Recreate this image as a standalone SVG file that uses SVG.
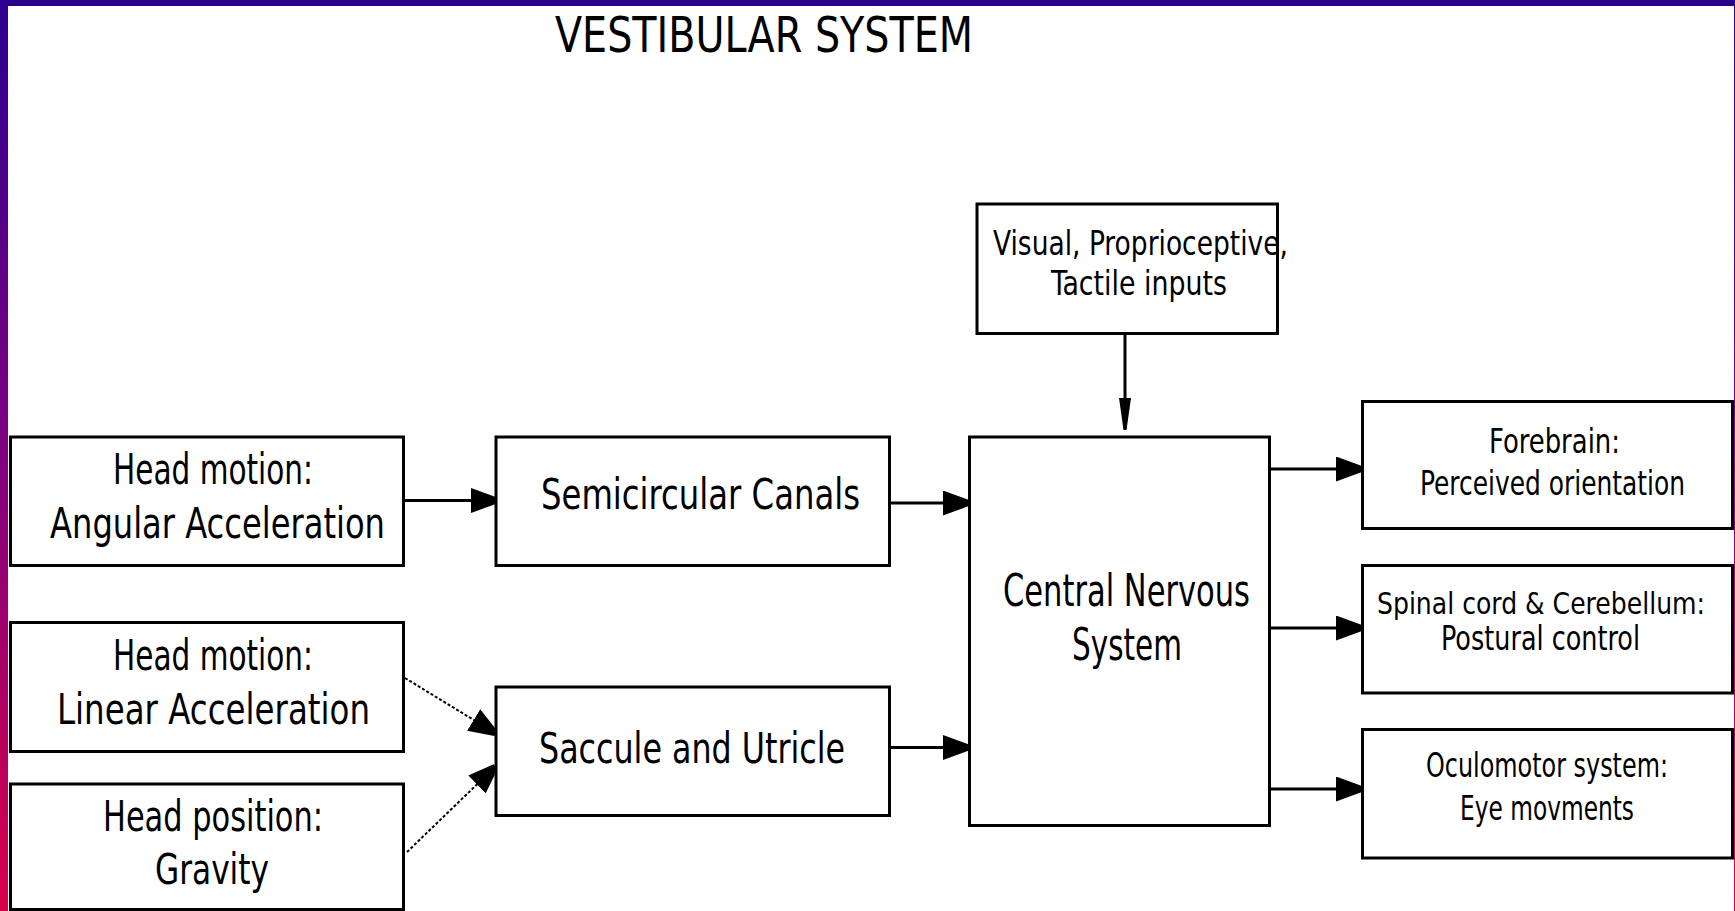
<svg xmlns="http://www.w3.org/2000/svg" width="1735" height="911" viewBox="0 0 1735 911">
  <style>
    .box { fill: #ffffff; stroke: #000000; stroke-width: 3; }
    .t { font-family: "DejaVu Sans Condensed", "DejaVu Sans", "Liberation Sans", sans-serif; font-stretch: condensed; fill: #000000; text-anchor: middle; }
    .big { font-size: 42px; }
    .cns { font-size: 45px; }
    .small { font-size: 33px; }
    .smaller { font-size: 30px; }
    .title { font-size: 49px; }
    .conn { stroke: #000000; stroke-width: 3; fill: none; }
    .dash { stroke: #000000; stroke-width: 2; fill: none; stroke-dasharray: 3 2; }
  </style>
  <defs>
    <linearGradient id="edge" x1="0" y1="0" x2="0" y2="1">
      <stop offset="0" stop-color="#2a0090"/>
      <stop offset="0.5" stop-color="#80007f"/>
      <stop offset="1" stop-color="#d8004a"/>
    </linearGradient>
    <marker id="ah" viewBox="0 0 26 25" refX="25" refY="12.5" markerWidth="26" markerHeight="25" markerUnits="userSpaceOnUse" orient="auto">
      <path d="M0,0 L26,9.5 L26,15.5 L0,25 Z" fill="#000000"/>
    </marker>
    <marker id="av" viewBox="0 0 32 12" refX="31" refY="6" markerWidth="32" markerHeight="12" markerUnits="userSpaceOnUse" orient="auto">
      <path d="M0,0 L32,4.5 L32,7.5 L0,12 Z" fill="#000000"/>
    </marker>
  </defs>

  <rect x="0" y="0" width="1735" height="911" fill="#ffffff"/>
  <rect x="0" y="0" width="1735" height="6" fill="#28008a"/>
  <rect x="0" y="0" width="8" height="911" fill="url(#edge)"/>
  <rect x="1734" y="0" width="1" height="911" fill="url(#edge)"/>

  <text class="t title" x="764" y="52" textLength="418" lengthAdjust="spacingAndGlyphs">VESTIBULAR SYSTEM</text>

  <g id="connectors">
    <line class="conn" x1="403.5" y1="500.5" x2="496" y2="500.5" marker-end="url(#ah)"/>
    <line class="dash" x1="405" y1="678" x2="495" y2="733" marker-end="url(#ah)"/>
    <line class="dash" x1="407" y1="852" x2="495" y2="767" marker-end="url(#ah)"/>
    <line class="conn" x1="889.5" y1="503" x2="968" y2="503" marker-end="url(#ah)"/>
    <line class="conn" x1="889.5" y1="747.5" x2="968" y2="747.5" marker-end="url(#ah)"/>
    <line class="conn" x1="1125" y1="333.5" x2="1125" y2="429" marker-end="url(#av)"/>
    <line class="conn" x1="1269.5" y1="469" x2="1361" y2="469" marker-end="url(#ah)"/>
    <line class="conn" x1="1269.5" y1="628" x2="1361" y2="628" marker-end="url(#ah)"/>
    <line class="conn" x1="1269.5" y1="789" x2="1361" y2="789" marker-end="url(#ah)"/>
  </g>

  <g id="angular">
    <rect class="box" x="10.5" y="437" width="393" height="128.5"/>
    <text class="t big" x="213" y="484" textLength="200" lengthAdjust="spacingAndGlyphs">Head motion:</text>
    <text class="t big" x="217.5" y="538" textLength="335" lengthAdjust="spacingAndGlyphs">Angular Acceleration</text>
  </g>
  <g id="linear">
    <rect class="box" x="10.5" y="622.5" width="393" height="129"/>
    <text class="t big" x="213" y="670" textLength="200" lengthAdjust="spacingAndGlyphs">Head motion:</text>
    <text class="t big" x="213.5" y="724" textLength="313" lengthAdjust="spacingAndGlyphs">Linear Acceleration</text>
  </g>
  <g id="gravity">
    <rect class="box" x="10.5" y="784" width="393" height="125.5"/>
    <text class="t big" x="213" y="831" textLength="220" lengthAdjust="spacingAndGlyphs">Head position:</text>
    <text class="t big" x="212" y="884" textLength="114" lengthAdjust="spacingAndGlyphs">Gravity</text>
  </g>
  <g id="semicircular">
    <rect class="box" x="496" y="437" width="393.5" height="128.5"/>
    <text class="t big" x="700.5" y="509" textLength="319" lengthAdjust="spacingAndGlyphs">Semicircular Canals</text>
  </g>
  <g id="saccule">
    <rect class="box" x="496" y="687" width="393.5" height="128.5"/>
    <text class="t big" x="692" y="763" textLength="306" lengthAdjust="spacingAndGlyphs">Saccule and Utricle</text>
  </g>
  <g id="visual">
    <rect class="box" x="977" y="204" width="300.5" height="129.5"/>
    <text class="t small" x="1140.5" y="255" textLength="295" lengthAdjust="spacingAndGlyphs">Visual, Proprioceptive,</text>
    <text class="t small" x="1139" y="295" textLength="176" lengthAdjust="spacingAndGlyphs">Tactile inputs</text>
  </g>
  <g id="cns">
    <rect class="box" x="969.5" y="437" width="300" height="388.5"/>
    <text class="t cns" x="1126.5" y="606" textLength="247" lengthAdjust="spacingAndGlyphs">Central Nervous</text>
    <text class="t cns" x="1127" y="660" textLength="110" lengthAdjust="spacingAndGlyphs">System</text>
  </g>
  <g id="forebrain">
    <rect class="box" x="1362.5" y="401.5" width="370" height="127"/>
    <text class="t small" x="1554.5" y="453" textLength="131" lengthAdjust="spacingAndGlyphs">Forebrain:</text>
    <text class="t small" x="1552.5" y="495" textLength="265" lengthAdjust="spacingAndGlyphs">Perceived orientation</text>
  </g>
  <g id="spinal">
    <rect class="box" x="1362.5" y="565.5" width="370" height="127.5"/>
    <text class="t smaller" x="1541" y="614" textLength="328" lengthAdjust="spacingAndGlyphs">Spinal cord &amp; Cerebellum:</text>
    <text class="t small" x="1540.5" y="650" textLength="199" lengthAdjust="spacingAndGlyphs">Postural control</text>
  </g>
  <g id="oculomotor">
    <rect class="box" x="1362.5" y="729.5" width="370" height="128.5"/>
    <text class="t small" x="1547" y="777" textLength="242" lengthAdjust="spacingAndGlyphs">Oculomotor system:</text>
    <text class="t small" x="1547" y="820" textLength="174" lengthAdjust="spacingAndGlyphs">Eye movments</text>
  </g>
</svg>
